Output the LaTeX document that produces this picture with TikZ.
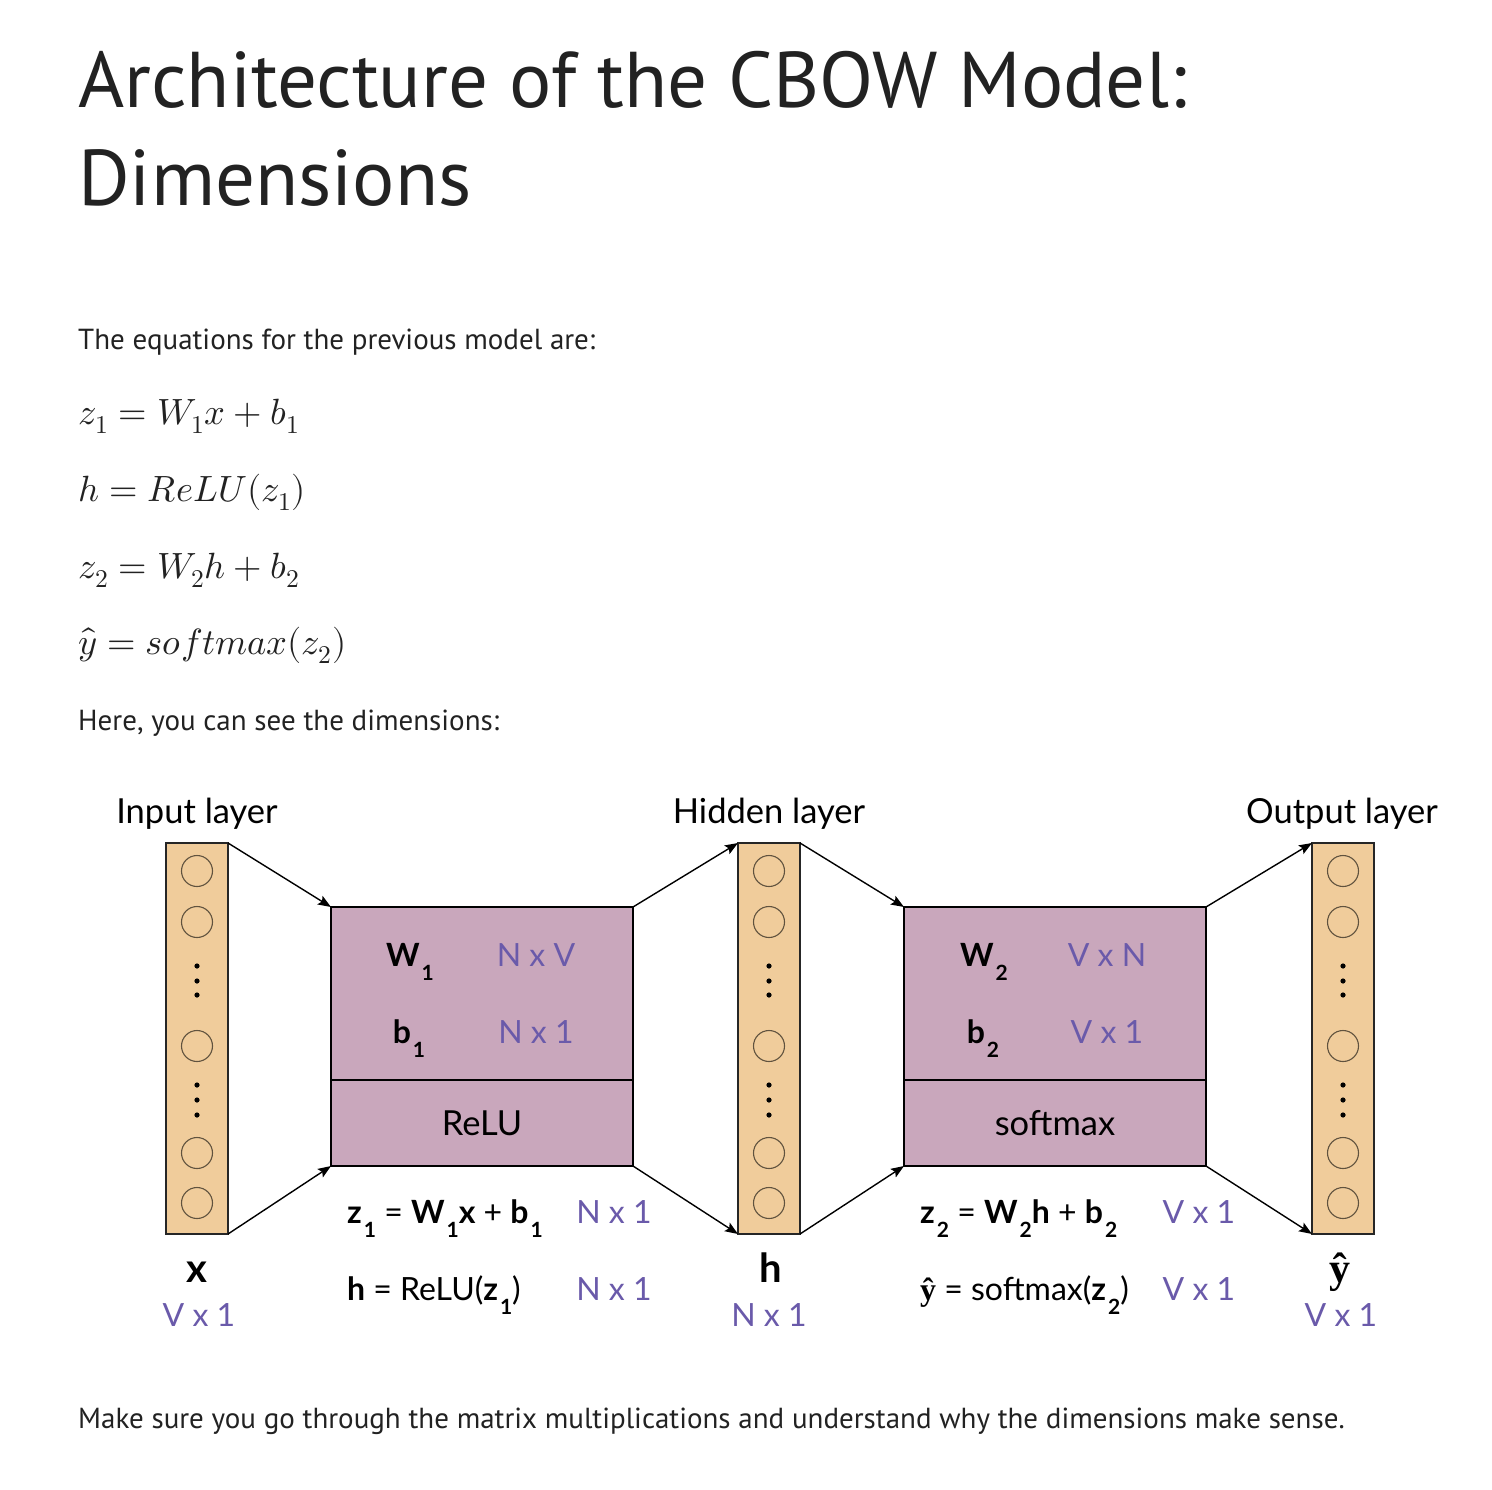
\documentclass[tikz,border=0pt]{standalone}
\usepackage{fontspec}
\usepackage{unicode-math}
\setmainfont{Lato}
\setmathfont{Latin Modern Math}
\newfontfamily\pagefont{PT Sans}
\newfontfamily\hatfont{Liberation Serif}
\usetikzlibrary{positioning,arrows.meta}
\definecolor{colfill}{HTML}{F0CC9B}
\definecolor{boxfill}{HTML}{C9A7BC}
\definecolor{dimblue}{HTML}{6A5AAA}
\definecolor{pagetext}{HTML}{222222}
% lowered subscript as in the slide
\newcommand{\lsub}[1]{\hspace{2pt}\raisebox{-14pt}{\fontsize{21}{21}\selectfont\bfseries #1}}

\begin{document}
\begin{tikzpicture}[x=1pt,y=-1pt,
  col/.style={draw=black!85,line width=1.5pt,fill=colfill,minimum width=62pt,minimum height=391pt,inner sep=0pt,outer sep=0pt},
  unit/.style={circle,draw=black!60!colfill,line width=1.1pt,minimum size=31pt,inner sep=0pt},
  wbox/.style={draw,line width=1.5pt,fill=boxfill,minimum width=302pt,inner sep=0pt,outer sep=0pt,font=\fontsize{34.5}{34.5}\selectfont},
  arr/.style={-{Stealth[length=13pt,width=10pt,inset=2.5pt]},line width=1.4pt},
  lbl/.style={font=\fontsize{34.5}{34.5}\selectfont,anchor=base,inner sep=0pt},
  big/.style={font=\bfseries\fontsize{40}{40}\selectfont,anchor=base,inner sep=0pt},
  dim/.style={font=\fontsize{32}{32}\selectfont,anchor=base,inner sep=0pt,text=dimblue},
  wname/.style={font=\bfseries\fontsize{32}{32}\selectfont,anchor=base,inner sep=0pt},
  eqn/.style={font=\fontsize{32}{32}\selectfont,anchor=base west,inner sep=0pt},
  ptxt/.style={font=\pagefont\fontsize{29}{29}\selectfont,text=pagetext,anchor=base west,inner sep=0pt},
  mth/.style={font=\fontsize{36.5}{36.5}\selectfont,text=pagetext,anchor=base west,inner sep=0pt}]
\fill[white] (0,0) rectangle (1492,1490);
\useasboundingbox (0,0) rectangle (1492,1490);
% page text
\node[ptxt,font=\pagefont\fontsize{79}{79}\selectfont] (title1) at (78,108) {Architecture of the CBOW Model:};
\node[ptxt,font=\pagefont\fontsize{79}{79}\selectfont] (title2) at (78,206) {Dimensions};
\node[ptxt] (intro) at (78,349) {The equations for the previous model are:};
\node[mth] (eq1) at (78,424) {$z_1 = W_1x + b_1$};
\node[mth] (eq2) at (78,501) {$h = ReLU(z_1)$};
\node[mth] (eq3) at (78,578) {$z_2 = W_2h + b_2$};
\node[mth] (eq4) at (78,654) {$\hat{y} = softmax(z_2)$};
\node[ptxt] (here) at (78,730) {Here, you can see the dimensions:};
\node[ptxt] (note) at (78,1428) {Make sure you go through the matrix multiplications and understand why the dimensions make sense.};
% layers
\foreach \n/\x in {inp/197,hid/769,out/1343}{
  \node[col] (\n) at (\x,1038.5) {};
  \foreach \y [count=\k] in {871,922,1046,1153,1203}
    \node[unit] (\n-\k) at (\x,\y) {};
  \foreach \y in {966,981,995,1085,1100,1115}
    \fill (\x,\y) circle (2.6pt);
}
\node[lbl] (inptitle) at (197,823) {Input layer};
\node[lbl] (hidtitle) at (769,823) {Hidden layer};
\node[lbl] (outtitle) at (1342,823) {Output layer};
\node[big] (xlab) at (197,1282) {x};
\node[dim] (xdim) at (199,1326) {V x 1};
\node[big] (hlab) at (771,1282) {h};
\node[dim] (hdim) at (769,1326) {N x 1};
\node[big,font=\hatfont\bfseries\fontsize{42}{42}\selectfont] (ylab) at (1340,1282) {ŷ};
\node[dim] (ydim) at (1341,1326) {V x 1};
% weight boxes
\node[wbox,minimum height=173pt,anchor=north west] (w1) at (331,907) {};
\node[wbox,minimum height=86pt,anchor=north] (act1) at (w1.south) {ReLU};
\node[wbox,minimum height=173pt,anchor=north west] (w2) at (904,907) {};
\node[wbox,minimum height=86pt,anchor=north] (act2) at (w2.south) {softmax};
\node[wname] (w1name) at (410,966) {W\lsub{1}};
\node[dim] (w1dim) at (536,966) {N x V};
\node[wname] (b1name) at (409,1043) {b\lsub{1}};
\node[dim] (b1dim) at (536,1043) {N x 1};
\node[wname] (w2name) at (984,966) {W\lsub{2}};
\node[dim] (w2dim) at (1107,966) {V x N};
\node[wname] (b2name) at (983,1043) {b\lsub{2}};
\node[dim] (b2dim) at (1107,1043) {V x 1};
% equations under the boxes
\node[eqn] (z1eq) at (347,1223) {\textbf{z}\lsub{1} = \textbf{W}\lsub{1}\textbf{x} + \textbf{b}\lsub{1}};
\node[dim] (z1dim) at (614,1223) {N x 1};
\node[eqn] (heq) at (347,1300) {\textbf{h} = ReLU(\textbf{z}\lsub{1})};
\node[dim] (hdim2) at (614,1300) {N x 1};
\node[eqn] (z2eq) at (920,1223) {\textbf{z}\lsub{2} = \textbf{W}\lsub{2}\textbf{h} + \textbf{b}\lsub{2}};
\node[dim] (z2dim) at (1199,1223) {V x 1};
\node[eqn] (yeq) at (920,1300) {{\hatfont\bfseries ŷ} = softmax(\textbf{z}\lsub{2})};
\node[dim] (ydim2) at (1199,1300) {V x 1};
% connectors
\draw[arr] (inp.north east) -- (w1.north west);
\draw[arr] (inp.south east) -- (act1.south west);
\draw[arr] (w1.north east) -- (hid.north west);
\draw[arr] (act1.south east) -- (hid.south west);
\draw[arr] (hid.north east) -- (w2.north west);
\draw[arr] (hid.south east) -- (act2.south west);
\draw[arr] (w2.north east) -- (out.north west);
\draw[arr] (act2.south east) -- (out.south west);
\end{tikzpicture}
\end{document}
